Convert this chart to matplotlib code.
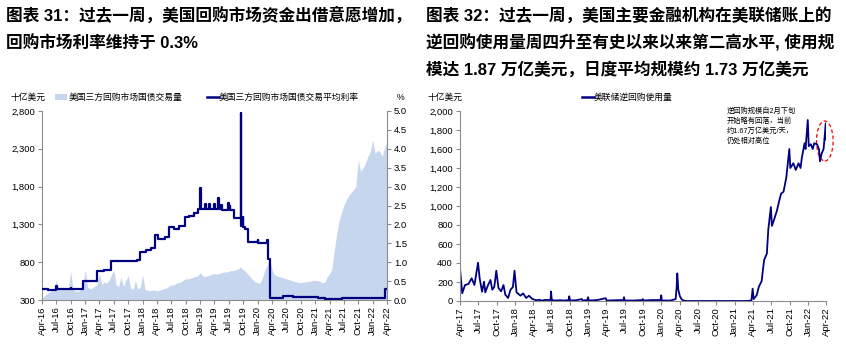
import matplotlib
matplotlib.use("Agg")
import matplotlib.pyplot as plt
import matplotlib.dates as mdates
from matplotlib.patches import Ellipse, Rectangle
from matplotlib.lines import Line2D
from matplotlib.ticker import FuncFormatter, MultipleLocator
import pandas as pd

plt.rcParams["font.family"] = ["Liberation Sans", "Noto Sans CJK SC"]
plt.rcParams["axes.unicode_minus"] = False

NAVY = "#000080"
FILL = "#c6d6ee"
GREY = "#8c8c8c"

# --- tri-party repo treasury volume (bn USD), 1st / 15th of each month, Apr-16 .. Apr-22
vol_2016 = [320, 350, 380, 400, 420, 440, 560, 450, 430, 460, 440, 470,
            680, 430, 420, 410, 440, 470, 700, 470, 450, 460, 480, 500]
vol_2017 = [650, 500, 540, 520, 560, 630, 700, 500, 480, 600, 480, 560,
            620, 460, 440, 560, 440, 470, 630, 440, 430, 420, 430, 430]
vol_2018 = [420, 430, 440, 450, 460, 480, 500, 500, 520, 530, 540, 560,
            580, 580, 590, 600, 610, 620, 660, 620, 610, 620, 630, 640]
vol_2019 = [650, 640, 650, 660, 670, 670, 680, 690, 690, 700, 710, 740,
            700, 680, 640, 600, 570, 540, 530, 520, 600, 700, 760, 850]
vol_2020 = [700, 640, 620, 610, 600, 590, 580, 570, 560, 550, 540, 530,
            530, 535, 540, 545, 550, 560, 560, 555, 545, 530, 530, 600]
vol_2021 = [650, 700, 950, 1150, 1350, 1450, 1550, 1620, 1680, 1720, 1760, 1800,
            2150, 2000, 2050, 2110, 2200, 2260, 2420, 2240, 2280, 2260, 2200, 2300]
vol_last = [2390]
volume = vol_2016 + vol_2017 + vol_2018 + vol_2019 + vol_2020 + vol_2021 + vol_last
vol_dates = pd.date_range("2016-04-01", "2022-04-01", freq="SMS")
vol_ticks = [300, 800, 1300, 1800, 2300, 2800]

# --- tri-party repo average rate (%), value holds from each date onward
rate_dates = ["2016-04-01", "2016-05-10", "2016-06-30", "2016-07-06", "2016-09-30",
              "2016-10-05", "2016-12-15", "2017-03-16", "2017-05-01", "2017-06-15",
              "2017-09-01", "2017-11-25", "2017-12-14", "2018-01-20", "2018-02-20",
              "2018-03-22", "2018-04-10", "2018-05-20", "2018-06-14", "2018-07-20",
              "2018-08-20", "2018-09-27", "2018-10-20", "2018-11-20", "2018-12-20",
              "2018-12-31", "2019-01-03", "2019-01-31", "2019-02-04", "2019-02-28",
              "2019-03-04", "2019-03-29", "2019-04-02", "2019-04-25", "2019-04-29",
              "2019-05-15", "2019-05-20", "2019-06-28", "2019-07-02", "2019-07-08",
              "2019-07-11", "2019-08-01", "2019-09-03", "2019-09-05", "2019-09-16",
              "2019-09-17", "2019-09-18", "2019-09-19", "2019-09-30", "2019-10-02",
              "2019-10-15", "2019-10-31", "2019-12-31", "2020-01-02", "2020-02-28",
              "2020-03-04", "2020-03-16", "2020-04-20", "2020-06-10", "2020-08-15",
              "2020-11-01", "2021-01-15", "2021-03-01", "2021-06-17", "2022-03-17",
              "2022-04-01"]
rate_vals = [0.30, 0.27, 0.37, 0.30, 0.33,
             0.29, 0.50, 0.76, 0.80, 1.02,
             1.03, 1.06, 1.28, 1.32, 1.38,
             1.72, 1.62, 1.66, 1.92, 1.88,
             1.96, 2.20, 2.22, 2.29, 2.42,
             2.95, 2.40, 2.55, 2.40, 2.55,
             2.42, 2.55, 2.40, 2.69, 2.42,
             2.52, 2.38, 2.56, 2.40, 2.50,
             2.38, 2.16, 2.18, 2.16, 2.30,
             4.94, 2.90, 1.95, 2.20, 1.92,
             1.88, 1.54, 1.58, 1.52, 1.60,
             1.08, 0.06, 0.05, 0.10, 0.09,
             0.08, 0.06, 0.02, 0.05, 0.29,
             0.29]

# --- Fed overnight reverse repo usage (bn USD)
rrp_dates = ["2017-04-01", "2017-04-12", "2017-04-26", "2017-05-13", "2017-05-29",
             "2017-06-12", "2017-06-30", "2017-07-08", "2017-07-20", "2017-07-30",
             "2017-08-05", "2017-08-19", "2017-08-31", "2017-09-09", "2017-09-19",
             "2017-09-29", "2017-10-10", "2017-10-23", "2017-11-04", "2017-11-13",
             "2017-11-27", "2017-12-09", "2017-12-21", "2017-12-29", "2018-01-08",
             "2018-01-28", "2018-02-10", "2018-02-25", "2018-03-11", "2018-03-28",
             "2018-04-15", "2018-05-01", "2018-05-15", "2018-06-01", "2018-06-27",
             "2018-06-29", "2018-07-03", "2018-07-20", "2018-08-15", "2018-09-01",
             "2018-09-26", "2018-09-28", "2018-10-02", "2018-11-01", "2018-11-30",
             "2018-12-03", "2018-12-28", "2018-12-31", "2019-01-03", "2019-02-15",
             "2019-03-29", "2019-04-02", "2019-05-15", "2019-06-26", "2019-06-28",
             "2019-07-02", "2019-08-15", "2019-09-27", "2019-09-30", "2019-10-02",
             "2019-11-15", "2019-12-27", "2019-12-31", "2020-01-03", "2020-02-15",
             "2020-03-12", "2020-03-17", "2020-03-20", "2020-03-25", "2020-04-02",
             "2020-04-10", "2020-04-20", "2020-05-01", "2021-03-01", "2021-03-25",
             "2021-03-31", "2021-04-05", "2021-04-20", "2021-05-01", "2021-05-15",
             "2021-05-27", "2021-06-10", "2021-06-17", "2021-06-30", "2021-07-05",
             "2021-07-15", "2021-07-30", "2021-08-10", "2021-08-20", "2021-09-01",
             "2021-09-15", "2021-09-30", "2021-10-05", "2021-10-20", "2021-11-01",
             "2021-11-15", "2021-11-25", "2021-12-01", "2021-12-15", "2021-12-20",
             "2021-12-31", "2022-01-05", "2022-01-15", "2022-01-25", "2022-02-01",
             "2022-02-15", "2022-02-25", "2022-03-02", "2022-03-10", "2022-03-20",
             "2022-03-31", "2022-04-01"]
rrp_vals = [344, 81, 168, 179, 239,
            168, 403, 239, 98, 203,
            91, 168, 221, 119, 147,
            319, 137, 102, 168, 66,
            32, 119, 147, 319, 91,
            56, 80, 32, 56, 21,
            8, 12, 5, 12, 10,
            100, 10, 5, 8, 5,
            10, 50, 5, 8, 20,
            5, 10, 40, 5, 10,
            30, 5, 8, 10, 40,
            5, 5, 10, 20, 5,
            10, 10, 60, 5, 5,
            20, 150, 290, 120, 50,
            20, 5, 0, 0, 5,
            130, 20, 60, 150, 210,
            430, 500, 750, 990, 790,
            850, 950, 1050, 1130, 1150,
            1300, 1600, 1400, 1450, 1380,
            1450, 1400, 1500, 1660, 1600,
            1905, 1630, 1650, 1600, 1660,
            1650, 1600, 1470, 1550, 1600,
            1870, 1700]

W, H = 846, 345
fig = plt.figure(figsize=(W / 100, H / 100), dpi=100)


def px(x, y):
    return x / W, 1 - y / H


def style_xaxis(ax, start, end):
    ax.set_xlim(pd.Timestamp(start), pd.Timestamp(end))
    ax.xaxis.set_major_locator(mdates.MonthLocator(bymonth=(1, 4, 7, 10)))
    ax.xaxis.set_major_formatter(mdates.DateFormatter("%b-%y"))
    ax.tick_params(axis="x", rotation=90, labelsize=6.8, length=3, color=GREY, pad=1.5)


# ---------------- left chart ----------------
ax1 = fig.add_axes([42 / W, 1 - 300 / H, (387 - 42) / W, (300 - 111) / H])
ax1.fill_between(vol_dates, volume, 0, color=FILL, lw=0)
ax1.set_ylim(300, 2800)
ax1.set_yticks(vol_ticks)
ax1.yaxis.set_major_formatter(FuncFormatter(lambda v, p: f"{v:,.0f}"))
style_xaxis(ax1, "2016-04-01", "2022-04-01")
ax1.tick_params(axis="y", labelsize=6.8, length=3, color=GREY, pad=2)
for s in ["top", "right"]:
    ax1.spines[s].set_visible(False)
for s in ["left", "bottom"]:
    ax1.spines[s].set_color(GREY)

ax1b = ax1.twinx()
ax1b.plot(pd.to_datetime(rate_dates), rate_vals, color=NAVY, lw=1.6, drawstyle="steps-post")
ax1b.set_ylim(0, 5)
ax1b.yaxis.set_major_locator(MultipleLocator(0.5))
ax1b.yaxis.set_major_formatter(FuncFormatter(lambda v, p: f"{v:.1f}"))
ax1b.tick_params(axis="y", labelsize=6.8, length=3, color=GREY, pad=2)
for s in ["top", "left", "bottom"]:
    ax1b.spines[s].set_visible(False)
ax1b.spines["right"].set_color(GREY)
ax1b.set_xlim(pd.Timestamp("2016-04-01"), pd.Timestamp("2022-04-01"))

fig.text(*px(6, 15), "图表 31：过去一周，美国回购市场资金出借意愿增加，",
         fontsize=12, weight="bold", va="center")
fig.text(*px(6, 43), "回购市场利率维持于 0.3%", fontsize=12, weight="bold", va="center")

fig.text(*px(10, 97), "十亿美元", fontsize=6.3, va="center")
fig.text(*px(397, 97), "%", fontsize=6.3, va="center")
fig.add_artist(Rectangle(px(55, 100), 12 / W, 6 / H, transform=fig.transFigure,
                         facecolor=FILL, edgecolor="none"))
fig.text(*px(69, 97), "美国三方回购市场国债交易量", fontsize=6.3, va="center")
fig.add_artist(Line2D([207 / W, 219 / W], [1 - 97 / H] * 2, transform=fig.transFigure,
                      color=NAVY, lw=1.8))
fig.text(*px(219, 97), "美国三方回购市场国债交易平均利率", fontsize=6.3, va="center")

# ---------------- right chart ----------------
ax2 = fig.add_axes([460 / W, 1 - 301 / H, (826 - 460) / W, (301 - 111) / H])
ax2.plot(pd.to_datetime(rrp_dates), rrp_vals, color=NAVY, lw=1.3)
ax2.set_ylim(0, 2000)
ax2.yaxis.set_major_locator(MultipleLocator(200))
ax2.yaxis.set_major_formatter(FuncFormatter(lambda v, p: f"{v:,.0f}"))
style_xaxis(ax2, "2017-04-01", "2022-04-01")
ax2.tick_params(axis="y", labelsize=6.8, length=3, color=GREY, pad=2)
for s in ["top", "right"]:
    ax2.spines[s].set_visible(False)
for s in ["left", "bottom"]:
    ax2.spines[s].set_color(GREY)

ax2.add_patch(Ellipse((mdates.date2num(pd.Timestamp("2022-03-26")), 1684), 83, 421,
                      fill=False, edgecolor="red", ls=(0, (3, 2)), lw=0.9, clip_on=False))
ax2.text((727 - 460) / 366, (301 - 107) / 190,
         "逆回购规模自2月下旬\n开始略有回落，当前\n约1.67万亿美元/天，\n仍处相对高位",
         transform=ax2.transAxes, fontsize=5.2, va="top", linespacing=1.45)

fig.text(*px(426, 15), "图表 32：过去一周，美国主要金融机构在美联储账上的",
         fontsize=12, weight="bold", va="center")
fig.text(*px(426, 43), "逆回购使用量周四升至有史以来以来第二高水平, 使用规",
         fontsize=12, weight="bold", va="center")
fig.text(*px(426, 69), "模达 1.87 万亿美元，日度平均规模约 1.73 万亿美元",
         fontsize=12, weight="bold", va="center")

fig.text(*px(428, 97), "十亿美元", fontsize=6.3, va="center")
fig.add_artist(Line2D([582 / W, 594 / W], [1 - 97 / H] * 2, transform=fig.transFigure,
                      color=NAVY, lw=1.8))
fig.text(*px(594, 97), "美联储逆回购使用量", fontsize=6.3, va="center")

fig.savefig("out.png", dpi=100)
